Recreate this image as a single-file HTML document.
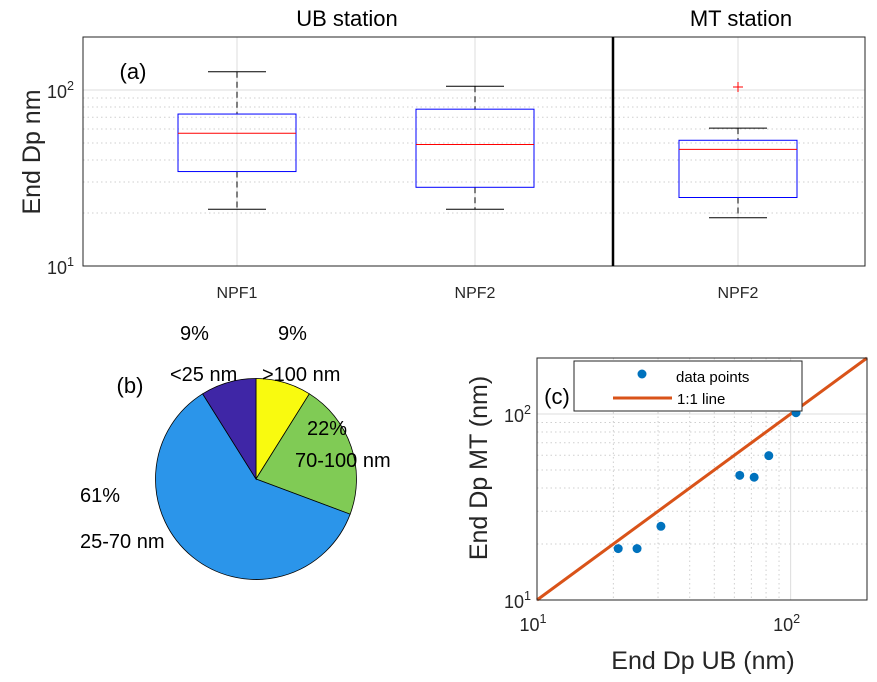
<!DOCTYPE html>
<html><head><meta charset="utf-8"><style>
body{margin:0;background:#fff}
svg{display:block;font-family:"Liberation Sans",Arial,sans-serif}
</style></head><body>
<svg id="fig" width="877" height="682" viewBox="0 0 877 682"></svg>
<script>
// Panel (a) box data
const boxCats = ["NPF1","NPF2","NPF2"];
const boxWhiskerHigh = [127,105,60.7];
const boxQ3 = [73,77.8,51.8];
const boxMedian = [56.8,49,46];
const boxQ1 = [34.4,28,24.5];
const boxWhiskerLow = [21,21,18.8];
const boxOutliers = [[],[],[104]];
// Panel (b) pie data
const pieLabels = ["9%\n>100 nm","22%\n70-100 nm","61%\n25-70 nm","9%\n<25 nm"];
const pieValues = [9,22,61,9];
// Panel (c) scatter data
const ubValues = [20.9,24.8,30.8,63,71.8,82,105];
const mtValues = [18.9,18.9,24.9,46.8,45.7,59.7,101.6];

const NS="http://www.w3.org/2000/svg";
const svg=document.getElementById('fig');
function el(tag,attrs,parent){const e=document.createElementNS(NS,tag);for(const k in attrs)e.setAttribute(k,attrs[k]);(parent||svg).appendChild(e);return e;}
function txt(s,x,y,size,anchor,parent,extra){const t=el('text',Object.assign({x:x,y:y,'font-size':size,'text-anchor':anchor||'middle',fill:'#262626'},extra||{}),parent);t.textContent=s;return t;}
function pow(base,exp,x,y,size,anchor,g){const t=el('text',{x:x,y:y,'font-size':size,'text-anchor':anchor,fill:'#262626'},g);t.appendChild(document.createTextNode(base));const s=el('tspan',{dy:-8,'font-size':size*0.7},t);s.textContent=exp;return t;}

// ---------- Panel (a) ----------
const aL=83,aR=865,aT=37,aB=266;
const yA=v=>aB-(Math.log10(v)-1)/(Math.log10(200)-1)*(aB-aT);
const boxX=[237,475,738];
const ga=el('g',{});  
for(let d=1;d<=2;d++)for(let m=1;m<=9;m++){const v=m*Math.pow(10,d);if(v<=10||v>200)continue;
 const y=yA(v);el('line',{x1:aL,x2:aR,y1:y,y2:y,stroke:m==1?'#dcdcdc':'#cfcfcf','stroke-dasharray':m==1?'':'1.5,3','stroke-width':1},ga);}
boxX.forEach(x=>el('line',{x1:x,x2:x,y1:aT,y2:aB,stroke:'#dcdcdc'},ga));
boxCats.forEach((c,i)=>{
 const x=boxX[i],w=59;
 const g=el('g',{},ga);
  
 el('line',{x1:x,x2:x,y1:yA(boxWhiskerHigh[i]),y2:yA(boxQ3[i]),stroke:'#000','stroke-dasharray':'6,4'},g);
 el('line',{x1:x,x2:x,y1:yA(boxQ1[i]),y2:yA(boxWhiskerLow[i]),stroke:'#000','stroke-dasharray':'6,4'},g);
 el('line',{x1:x-29,x2:x+29,y1:yA(boxWhiskerHigh[i]),y2:yA(boxWhiskerHigh[i]),stroke:'#000'},g);
 el('line',{x1:x-29,x2:x+29,y1:yA(boxWhiskerLow[i]),y2:yA(boxWhiskerLow[i]),stroke:'#000'},g);
 el('rect',{x:x-w,y:yA(boxQ3[i]),width:2*w,height:yA(boxQ1[i])-yA(boxQ3[i]),fill:'none',stroke:'#0000ff'},g);
 el('line',{x1:x-w,x2:x+w,y1:yA(boxMedian[i]),y2:yA(boxMedian[i]),stroke:'#ff0000'},g);
 boxOutliers[i].forEach(o=>{const y=yA(o);el('path',{d:`M${x-5},${y}H${x+5}M${x},${y-5}V${y+5}`,stroke:'#ff0000'},g);});
 const t=txt(c,x,298,16,'middle',ga);  
});
el('rect',{x:aL,y:aT,width:aR-aL,height:aB-aT,fill:'none',stroke:'#262626'},ga);
el('line',{x1:613,x2:613,y1:aT,y2:aB,stroke:'#000','stroke-width':2.5},ga);
pow('10','2',aL-9,yA(100)+8,18,'end',ga);
pow('10','1',aL-9,aB+8,18,'end',ga);
let t=txt('End Dp nm',0,0,25,'middle',svg,{transform:'translate(40,152) rotate(-90)'});
t=txt('(a)',133,79,22,'middle',svg,{fill:'#000'});
t=txt('UB station',347,26,22,'middle',svg,{fill:'#000'});
t=txt('MT station',741,26,22,'middle',svg,{fill:'#000'});

// ---------- Panel (b) ----------
const cx=256,cy=479,r=100.5;
const pieColors=['#f9fa0f','#80cb55','#2b95ea','#3f26a6'];
const gp=el('g',{});  
const tot=pieValues.reduce((a,b)=>a+b,0);
let acc=0;
const labelPos=[[278,340,262,381],[307,435,295,467],[80,502,80,548],[180,340,170,381]];
pieValues.forEach((v,i)=>{
 const a0=acc/tot*2*Math.PI; acc+=v; const a1=acc/tot*2*Math.PI;
 const p=(a)=>[cx+r*Math.sin(a),cy-r*Math.cos(a)];
 const [x0,y0]=p(a0),[x1,y1]=p(a1);
 const s=el('path',{d:`M${cx},${cy}L${x0},${y0}A${r},${r} 0 ${a1-a0>Math.PI?1:0} 1 ${x1},${y1}Z`,fill:pieColors[i],stroke:'#000','stroke-width':0.8},gp);
  
});
pieValues.forEach((v,i)=>{
 const lines=pieLabels[i].split('\n');
 const [x1,y1,x2,y2]=labelPos[i];
 const lt=txt(lines[0],x1,y1,20,'start',gp,{fill:'#000'});  
 const lt2=txt(lines[1],x2,y2,20,'start',gp,{fill:'#000'});  
});
t=txt('(b)',130,393,22,'middle',svg,{fill:'#000'});

// ---------- Panel (c) ----------
const cL=537,cR=867,cT=358,cB=600;
const lr=Math.log10(200)-1;
const xC=v=>cL+(Math.log10(v)-1)/lr*(cR-cL);
const yC=v=>cB-(Math.log10(v)-1)/lr*(cB-cT);
const gc=el('g',{});  
for(let d=1;d<=2;d++)for(let m=1;m<=9;m++){const v=m*Math.pow(10,d);if(v<=10||v>200)continue;
 const dash=m==1?'':'1.5,3',col=m==1?'#dcdcdc':'#cfcfcf';
 el('line',{x1:xC(v),x2:xC(v),y1:cT,y2:cB,stroke:col,'stroke-dasharray':dash},gc);
 el('line',{x1:cL,x2:cR,y1:yC(v),y2:yC(v),stroke:col,'stroke-dasharray':dash},gc);}
const ln=el('line',{x1:xC(10),y1:yC(10),x2:xC(200),y2:yC(200),stroke:'#d95319','stroke-width':3},gc);
 
ubValues.forEach((u,i)=>{const c=el('circle',{cx:xC(u),cy:yC(mtValues[i]),r:4.5,fill:'#0072bd'},gc);
  });
el('rect',{x:cL,y:cT,width:cR-cL,height:cB-cT,fill:'none',stroke:'#262626'},gc);
pow('10','1',xC(10)-4,cB+31,18,'middle',gc);
pow('10','2',xC(100)-4,cB+31,18,'middle',gc);
pow('10','2',cL-6,yC(100)+8,18,'end',gc);
pow('10','1',cL-6,cB+8,18,'end',gc);
const lg=el('g',{});  
el('rect',{x:574,y:361,width:228,height:50,fill:'#fff',stroke:'#262626'},lg);
el('circle',{cx:642,cy:374,r:4.5,fill:'#0072bd'},lg);
txt('data points',676,382,15,'start',lg,{fill:'#000'});
el('line',{x1:613,x2:672,y1:398,y2:398,stroke:'#d95319','stroke-width':3},lg);
txt('1:1 line',677,404,15,'start',lg,{fill:'#000'});
t=txt('(c)',557,404,22,'middle',svg,{fill:'#000'});
t=txt('End Dp UB  (nm)',703,669,25,'middle',svg);
t=txt('End Dp  MT  (nm)',0,0,25,'middle',svg,{transform:'translate(487,468) rotate(-90)'});
</script>
</body></html>
